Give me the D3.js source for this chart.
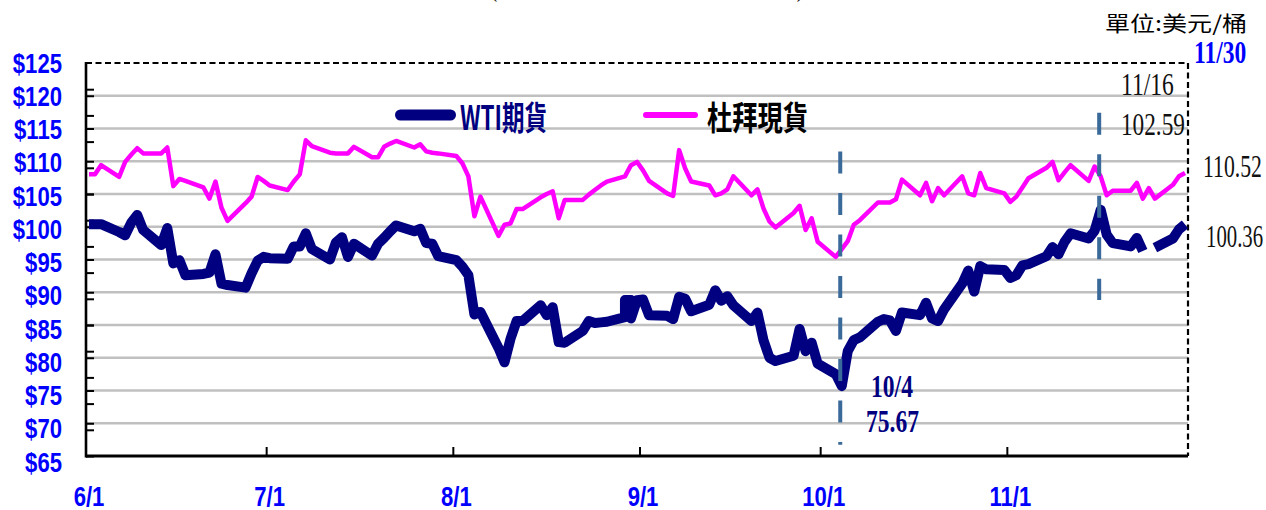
<!DOCTYPE html>
<html><head><meta charset="utf-8">
<script src="https://cdn.jsdelivr.net/npm/d3@7"></script>
<style>html,body{margin:0;padding:0;background:#fff;overflow:hidden}</style>
</head><body>
<svg id="chart" width="1266" height="510"></svg>
<script>
// ---------------- DATA ----------------
const yTickValues = [65,70,75,80,85,90,95,100,105,110,115,120,125];
const xTickLabels = ['6/1','7/1','8/1','9/1','10/1','11/1'];
const seriesNames = ['WTI期貨','杜拜現貨'];
const unitText = '單位:美元/桶';
const lastDateText = '11/30';
const titleText = '(2011年6月1日 ~ 2011年11月30日)';

const wtiDates = [
 '6/1','6/2','6/3','6/6','6/7','6/8','6/9','6/10','6/13','6/14','6/15','6/16','6/17','6/20','6/21','6/22','6/23','6/24','6/27','6/28','6/29','6/30',
 '7/1','7/4','7/5','7/6','7/7','7/8','7/11','7/12','7/13','7/14','7/15','7/18','7/19','7/20','7/21','7/22','7/25','7/26','7/27','7/28','7/29',
 '8/1','8/2','8/3','8/4','8/5','8/8','8/9','8/10','8/11','8/12','8/15','8/16','8/17','8/18','8/19','8/22','8/23','8/24','8/25','8/26','8/29','8/29','8/30','8/30','8/31',
 '9/1','9/2','9/5','9/6','9/7','9/8','9/9','9/12','9/13','9/14','9/15','9/16','9/19','9/20','9/21','9/22','9/23','9/26','9/27','9/28','9/29','9/30',
 '10/3','10/4','10/5','10/6','10/7','10/10','10/11','10/12','10/13','10/14','10/17','10/18','10/19','10/20','10/21','10/24','10/25','10/26','10/27','10/28','10/31',
 '11/1','11/2','11/3','11/4','11/7','11/8','11/9','11/10','11/11','11/14','11/15','11/16','11/17','11/18','11/21','11/22','11/23','11/24','11/25','11/28','11/29','11/30'
];
const wtiValues = [
 100.4,100.4,100.4,99.2,98.7,100.6,101.8,99.5,97.2,99.8,94.4,94.9,92.6,92.8,93.0,95.8,91.3,91.1,90.7,92.9,94.8,95.4,
 95.2,95.1,97.0,97.0,99.0,96.6,95.0,97.6,98.4,95.4,97.4,95.6,97.4,98.3,99.3,100.2,99.3,99.7,97.5,97.4,95.5,
 94.9,93.9,92.6,86.6,87.0,81.5,79.3,82.9,85.6,85.6,88.0,86.5,87.7,82.4,82.3,84.1,85.6,85.3,85.4,85.5,86.2,88.8,88.8,86.0,88.8,
 88.9,86.5,86.4,85.9,89.3,89.0,87.1,88.1,90.3,88.7,89.4,88.0,85.6,86.9,82.7,80.0,79.5,80.3,84.4,81.0,82.3,79.1,
 77.5,75.67,81.0,82.7,83.1,85.5,85.9,85.7,84.1,86.9,86.5,88.4,86.0,85.6,87.4,91.3,93.3,90.1,94.0,93.5,93.4,
 92.2,92.6,94.1,94.3,95.5,96.9,95.8,97.7,99.0,98.2,99.4,102.59,98.8,97.5,97.0,98.3,96.3,null,96.8,98.2,99.6,100.36
];

const dubaiDates = [
 '6/1','6/2','6/3','6/6','6/7','6/8','6/9','6/10','6/13','6/14','6/15','6/16','6/17','6/20','6/21','6/22','6/23','6/24','6/27','6/28','6/29','6/30',
 '7/1','7/4','7/5','7/6','7/7','7/8','7/11','7/12','7/13','7/14','7/15','7/18','7/19','7/20','7/21','7/22','7/25','7/26','7/27','7/28','7/29',
 '8/1','8/2','8/3','8/4','8/5','8/8','8/9','8/10','8/11','8/12','8/15','8/16','8/17','8/18','8/19','8/22','8/23','8/24','8/25','8/26','8/29','8/30','8/31',
 '9/1','9/2','9/5','9/6','9/7','9/8','9/9','9/12','9/13','9/14','9/15','9/16','9/19','9/20','9/21','9/22','9/23','9/26','9/27','9/28','9/29','9/30',
 '10/3','10/4','10/5','10/6','10/7','10/10','10/11','10/12','10/13','10/14','10/17','10/18','10/19','10/20','10/21','10/24','10/25','10/26','10/27','10/28','10/31',
 '11/1','11/2','11/3','11/4','11/7','11/8','11/9','11/10','11/11','11/14','11/15','11/16','11/17','11/18','11/21','11/22','11/23','11/24','11/25','11/28','11/29','11/30'
];
const dubaiValues = [
 108.0,108.0,109.4,107.6,109.9,111.0,112.0,111.2,111.2,112.1,106.2,107.3,107.0,106.0,104.3,106.9,102.9,100.9,103.6,104.6,107.6,107.0,
 106.3,105.6,106.9,108.0,113.2,112.3,111.3,111.2,111.2,111.2,112.2,110.6,110.6,112.2,112.7,113.1,112.1,112.6,111.5,111.3,111.2,
 110.8,109.7,107.7,101.6,104.6,98.6,100.3,100.5,102.7,102.7,104.5,105.0,105.4,101.3,104.1,104.1,104.9,105.6,106.3,106.9,107.7,109.4,109.9,
 108.6,107.0,105.1,104.7,111.7,108.9,106.9,106.3,104.8,105.1,105.7,107.7,104.8,105.7,102.8,100.8,99.9,102.1,103.2,99.5,101.3,97.7,
 95.4,96.6,97.8,100.3,101.0,103.7,103.7,103.7,104.2,107.2,104.8,106.7,103.9,105.9,104.8,107.7,105.1,104.8,108.2,105.9,105.1,
 103.8,104.6,106.0,107.4,109.0,109.9,107.1,108.3,109.4,107.0,109.2,107.7,104.8,105.5,105.5,106.7,104.3,105.9,104.3,106.4,107.7,108.2
];

// event markers (date, top value, bottom value)
const markerDates = ['10/4','11/16'];
const markerTop = [111.5, 117.4];
const markerBottom = [66.7, 88.8];

// value annotations
const annoTexts = ['10/4','75.67','11/16','102.59','110.52','100.36'];

// ---------------- SETUP ----------------
const svg = d3.select('#chart');
const DAY = 864e5, HALF = DAY/2;
const parse = s => { const [m,d] = s.split('/').map(Number); return new Date(Date.UTC(2011, m-1, d)); };

const x = d3.scaleUtc()
  .domain([new Date(Date.UTC(2011,5,1) - HALF), new Date(Date.UTC(2011,10,30) + HALF)])
  .range([86, 1188]);
const y = d3.scaleLinear().domain([65,125]).range([456,63]);
const yLab = y.copy().range([462, 63]);
const yMinor = d3.scaleLinear().domain([0,15]).range([456,63]);

const numFont = "'Liberation Sans', Arial, sans-serif";
const serifFont = "'Liberation Serif', 'Times New Roman', serif";
const cjkFont = "'Noto Sans CJK TC', 'Noto Sans CJK SC', sans-serif";

function txt(g, str, tx, ty, opts) {
  const t = g.append('text')
    .attr('transform', `translate(${tx},${ty}) scale(${opts.sx||1},1)`)
    .attr('text-anchor', opts.anchor || 'start')
    .attr('font-family', opts.font)
    .attr('font-size', opts.size)
    .attr('font-weight', opts.weight || 'normal')
    .attr('fill', opts.fill || '#000')
    .text(str);
  if (opts.dy) t.attr('dy', opts.dy);
  return t;
}

// title (mostly cut off at top)
svg.append('text').attr('x', 490).attr('y', -3)
  .attr('font-family', serifFont).attr('font-size', 24)
  .attr('textLength', 314).attr('lengthAdjust', 'spacingAndGlyphs')
  .text(titleText);

// gridlines
svg.append('g').selectAll('line')
  .data(yTickValues.filter(v => v > 65 && v < 125))
  .join('line')
  .attr('x1', 86).attr('x2', 1188)
  .attr('y1', d => y(d)).attr('y2', d => y(d))
  .attr('stroke', '#C0C0C0').attr('stroke-width', 2.5);

// top & right dashed border
svg.append('line').attr('x1', 86).attr('x2', 1188).attr('y1', y(125)).attr('y2', y(125))
  .attr('stroke', '#000').attr('stroke-width', 2.2).attr('stroke-dasharray', '6,3.5');
svg.append('line').attr('x1', 1188).attr('x2', 1188).attr('y1', y(125)).attr('y2', y(65))
  .attr('stroke', '#000').attr('stroke-width', 2.2).attr('stroke-dasharray', '6,3.5');

// left axis with inner ticks
const yAxisG = svg.append('g').attr('transform', 'translate(86,0)')
  .call(d3.axisRight(y).tickValues(yTickValues.filter(v => v < 125)).tickSize(8).tickFormat(''));
yAxisG.select('.domain').remove();
yAxisG.selectAll('line').attr('stroke', '#000').attr('stroke-width', 2);
const yMinorG = svg.append('g').attr('transform', 'translate(86,0)')
  .call(d3.axisRight(yMinor).tickValues(d3.range(1,15)).tickSize(8).tickFormat(''));
yMinorG.select('.domain').remove();
yMinorG.selectAll('line').attr('stroke', '#000').attr('stroke-width', 2);
svg.append('line').attr('x1', 86).attr('x2', 86).attr('y1', y(125) - 1).attr('y2', y(65) + 1.5)
  .attr('stroke', '#000').attr('stroke-width', 2.6);

// y labels
const yl = svg.append('g');
yTickValues.forEach(v => txt(yl, '$' + v, 62, yLab(v), {font: numFont, size: 27, weight: 'bold', fill: '#0000FF', anchor: 'end', sx: 0.82, dy: '0.36em'}));

// x axis
const monthStarts = xTickLabels.map(parse);
svg.append('line').attr('x1', 86).attr('x2', 1188).attr('y1', y(65)).attr('y2', y(65))
  .attr('stroke', '#000').attr('stroke-width', 3);
svg.append('g').selectAll('line')
  .data(monthStarts.slice(1))
  .join('line')
  .attr('x1', d => x(new Date(+d - HALF))).attr('x2', d => x(new Date(+d - HALF)))
  .attr('y1', y(65)).attr('y2', y(65) - 9)
  .attr('stroke', '#000').attr('stroke-width', 2);
const xl = svg.append('g');
xTickLabels.forEach((s, i) => txt(xl, s, x(monthStarts[i]), 506, {font: numFont, size: 27, weight: 'bold', fill: '#0000FF', anchor: 'middle', sx: 0.82}));

// series lines
const wti = wtiDates.map((d, i) => ({date: parse(d), v: wtiValues[i]}));
const dubai = dubaiDates.map((d, i) => ({date: parse(d), v: dubaiValues[i]}));
const line = d3.line().defined(d => d.v != null).x(d => x(d.date)).y(d => y(d.v));

svg.append('path').datum(dubai).attr('d', line)
  .attr('fill', 'none').attr('stroke', '#FF00FF').attr('stroke-width', 4.5)
  .attr('stroke-linejoin', 'round');
svg.append('path').datum(wti).attr('d', line)
  .attr('fill', 'none').attr('stroke', '#000080').attr('stroke-width', 10)
  .attr('stroke-linejoin', 'round').attr('stroke-linecap', 'butt');

// dashed event markers
svg.append('g').selectAll('line')
  .data(markerDates.map((d, i) => ({date: parse(d), top: markerTop[i], bottom: markerBottom[i]})))
  .join('line')
  .attr('x1', d => x(d.date) - 1.5).attr('x2', d => x(d.date) - 1.5)
  .attr('y1', d => y(d.top)).attr('y2', d => y(d.bottom))
  .attr('stroke', '#3A6A9A').attr('stroke-width', 4).attr('stroke-dasharray', '22,19.5');

// legend
const lg = svg.append('g');
lg.append('line').attr('x1', 400.5).attr('x2', 450.5).attr('y1', 115).attr('y2', 115)
  .attr('stroke', '#000080').attr('stroke-width', 11).attr('stroke-linecap', 'round');
lg.append('text').attr('x', 460).attr('y', 130)
  .attr('font-family', cjkFont).attr('font-size', 33).attr('font-weight', 'bold')
  .attr('fill', '#000080').attr('textLength', 87).attr('lengthAdjust', 'spacingAndGlyphs')
  .text(seriesNames[0]);
lg.append('line').attr('x1', 646).attr('x2', 695).attr('y1', 115).attr('y2', 115)
  .attr('stroke', '#FF00FF').attr('stroke-width', 6).attr('stroke-linecap', 'round');
lg.append('text').attr('x', 707).attr('y', 130)
  .attr('font-family', cjkFont).attr('font-size', 33).attr('font-weight', 'bold')
  .attr('fill', '#000').attr('textLength', 101).attr('lengthAdjust', 'spacingAndGlyphs')
  .text(seriesNames[1]);

// unit & end date
svg.append('text').attr('x', 1105).attr('y', 31)
  .attr('font-family', cjkFont).attr('font-size', 21)
  .attr('fill', '#000').attr('textLength', 142).attr('lengthAdjust', 'spacingAndGlyphs')
  .text(unitText);
const an = svg.append('g');
txt(an, lastDateText, 1194, 63, {font: serifFont, size: 31, weight: 'bold', fill: '#0000FF', sx: 0.76});

// annotations
txt(an, annoTexts[0], 892, 397, {font: serifFont, size: 31, weight: 'bold', fill: '#000080', anchor: 'middle', sx: 0.76});
txt(an, annoTexts[1], 892.5, 432, {font: serifFont, size: 31, weight: 'bold', fill: '#000080', anchor: 'middle', sx: 0.76});
txt(an, annoTexts[2], 1121, 95, {font: serifFont, size: 31, fill: '#111', sx: 0.76});
txt(an, annoTexts[3], 1121, 135, {font: serifFont, size: 31, fill: '#111', sx: 0.75});
txt(an, annoTexts[4], 1203, 177, {font: serifFont, size: 31, fill: '#111', sx: 0.7});
txt(an, annoTexts[5], 1206, 247, {font: serifFont, size: 31, fill: '#111', sx: 0.67});
</script>
</body></html>
